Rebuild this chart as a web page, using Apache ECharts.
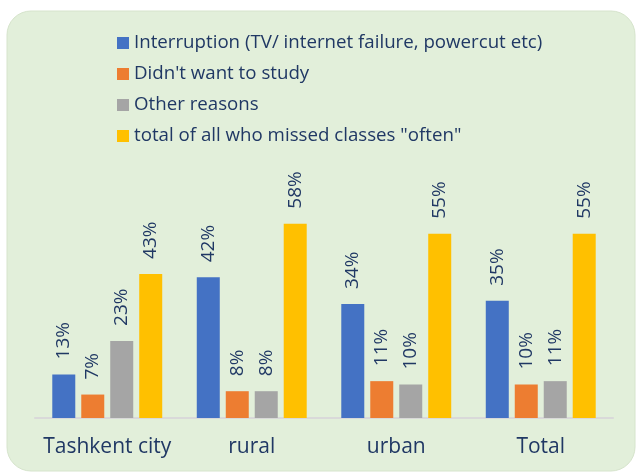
<!DOCTYPE html>
<html>
<head>
<meta charset="utf-8">
<script src="https://cdn.jsdelivr.net/npm/echarts@6/dist/echarts.min.js"></script>
<style>
  html, body { margin: 0; padding: 0; background: #fff; }
  #chart { width: 636px; height: 472px; }
</style>
</head>
<body>
<div id="chart"></div>
<script>
const categories = ["Tashkent city", "rural", "urban", "Total"];
const seriesNames = [
  "Interruption (TV/ internet failure, powercut etc)",
  "Didn't want to study",
  "Other reasons",
  'total of all who missed classes "often"'
];
const interruption = [13, 42, 34, 35];
const didntWant = [7, 8, 11, 10];
const otherReasons = [23, 8, 10, 11];
const totalOften = [43, 58, 55, 55];
const colors = ["#4472c4", "#ed7d31", "#a5a5a5", "#ffc000"];

const textColor = "#203864";
const font = "Open Sans";

const chart = echarts.init(document.getElementById("chart"));

function bar(name, data, color) {
  return {
    name: name,
    type: "bar",
    data: data,
    barWidth: 23,
    barGap: "26%",
    itemStyle: { color: color },
    label: {
      show: true,
      position: "top",
      rotate: 90,
      align: "left",
      verticalAlign: "middle",
      distance: 15,
      formatter: "{c}%",
      color: textColor,
      fontFamily: font,
      fontSize: 19
    }
  };
}

chart.setOption({
  backgroundColor: "#fff",
  animation: false,
  graphic: [{
    type: "rect",
    z: -10,
    shape: { x: 7, y: 11, width: 628, height: 460, r: 24 },
    style: { fill: "#e2efda", stroke: "#d6e4cc", lineWidth: 1 }
  }],
  legend: {
    orient: "vertical",
    left: 112,
    top: 27,
    itemWidth: 12,
    itemHeight: 12,
    itemGap: 9,
    icon: "rect",
    textStyle: { color: textColor, fontFamily: font, fontSize: 18.7, lineHeight: 22 },
    data: seriesNames
  },
  grid: { left: 35, right: 23, top: 217, bottom: 54 },
  xAxis: {
    type: "category",
    data: categories,
    axisTick: { show: false },
    axisLine: { lineStyle: { color: "#d9d9d9", width: 2 } },
    axisLabel: { interval: 0, color: textColor, fontFamily: font, fontSize: 21, margin: 19 }
  },
  yAxis: {
    type: "value",
    min: 0,
    max: 60,
    show: false,
    splitLine: { show: false }
  },
  series: [
    bar(seriesNames[0], interruption, colors[0]),
    bar(seriesNames[1], didntWant, colors[1]),
    bar(seriesNames[2], otherReasons, colors[2]),
    bar(seriesNames[3], totalOften, colors[3])
  ]
});
</script>
</body>
</html>
